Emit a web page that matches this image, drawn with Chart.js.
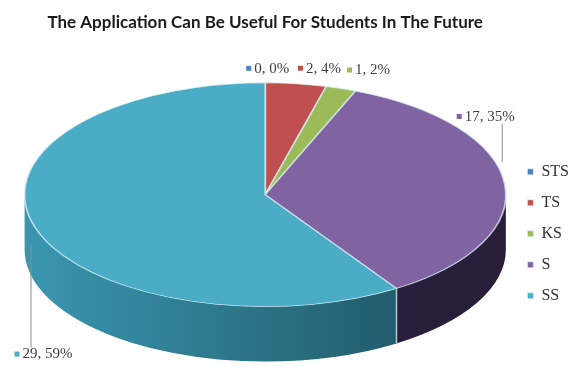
<!DOCTYPE html>
<html lang="en">
<head>
<meta charset="UTF-8">
<script src="https://cdn.jsdelivr.net/npm/chart.js"></script>
<style>
    body { margin: 0; background: #fff; }
    .wrap { position: relative; width: 570px; height: 367px; }
</style>
</head>
<body>
<div class="wrap"><canvas id="pieChart"></canvas></div>
<script>
// data
const categories = ['STS', 'TS', 'KS', 'S', 'SS'];
const counts = [0, 2, 1, 17, 29];
const topColors = ['#4f81bd', '#c0504d', '#9bbb59', '#8064a2', '#4bacc6'];
const sideColors = [['#3c6594', '#2c4c70'], ['#963c3a', '#6e2b2a'], ['#789244', '#566a30'], ['#33284a', '#281e3a'], ['#3a97b0', '#1f5766']];

// label offsets from the slice edge (left/middle of label) + optional leader line
const labelOffsets = [[-19, -14], [2, -15], [6, -18], [-48, -67], [-20, 128]];
const leaders = [null, null, null, { dx: -3, dy: -22 }, { dx: -4, dy: 18 }];

const total = counts.reduce((a, b) => a + b, 0);

// squash the flat pie into a tilted disc and add the side wall
const pie3d = {
    id: 'pie3d',
    beforeDatasetsDraw(chart, args, opts) {
        const arcs = chart.getDatasetMeta(0).data;
        const { x: cx, y: cy, outerRadius: r } = arcs[0];
        const rx = r * opts.sx, ry = r * opts.sy, d = opts.depth;
        const ctx = chart.ctx;
        arcs.forEach((arc, i) => {
            const a0 = Math.max(arc.startAngle, 0), a1 = Math.min(arc.endAngle, Math.PI);
            if (a1 <= a0) return;
            const g = ctx.createLinearGradient(cx - rx, 0, cx + rx * 0.7, 0);
            g.addColorStop(0, sideColors[i][0]);
            g.addColorStop(1, sideColors[i][1]);
            ctx.beginPath();
            ctx.ellipse(cx, cy, rx, ry, 0, a0, a1);
            ctx.lineTo(cx + rx * Math.cos(a1), cy + ry * Math.sin(a1) + d);
            ctx.ellipse(cx, cy + d, rx, ry, 0, a1, a0, true);
            ctx.closePath();
            ctx.fillStyle = g;
            ctx.fill();
            // thin light seam between slices on the wall
            if (a0 > 0 && a0 < Math.PI) {
                ctx.beginPath();
                ctx.moveTo(cx + rx * Math.cos(a0), cy + ry * Math.sin(a0));
                ctx.lineTo(cx + rx * Math.cos(a0), cy + ry * Math.sin(a0) + d);
                ctx.strokeStyle = 'rgba(200,230,240,0.8)';
                ctx.lineWidth = 1.5;
                ctx.stroke();
            }
        });
        ctx.save();
        ctx.translate(cx, cy);
        ctx.scale(opts.sx, opts.sy);
        ctx.translate(-cx, -cy);
    },
    afterDatasetsDraw(chart) {
        chart.ctx.restore();
    },
    afterDraw(chart, args, opts) {
        const arcs = chart.getDatasetMeta(0).data;
        const { x: cx, y: cy, outerRadius: r } = arcs[0];
        const rx = r * opts.sx, ry = r * opts.sy;
        const ctx = chart.ctx;
        ctx.save();
        ctx.font = '15px "Liberation Serif", serif';
        ctx.textBaseline = 'middle';
        arcs.forEach((arc, i) => {
            const mid = (arc.startAngle + arc.endAngle) / 2;
            const ax = cx + rx * Math.cos(mid), ay = cy + ry * Math.sin(mid);
            const lx = ax + labelOffsets[i][0], ly = ay + labelOffsets[i][1];
            const ld = leaders[i];
            if (ld) {
                const x = ax + ld.dx, y0 = ay + ld.dy;
                const y1 = ly < y0 ? ly + 7 : ly - 7;
                ctx.beginPath();
                ctx.moveTo(x + 0.5, y0);
                ctx.lineTo(x + 0.5, y1);
                ctx.strokeStyle = '#8c8c8c';
                ctx.lineWidth = 1;
                ctx.stroke();
            }
            ctx.fillStyle = topColors[i];
            ctx.fillRect(lx, ly - 3, 5, 5);
            ctx.fillStyle = '#404040';
            const pct = Math.round(counts[i] / total * 100);
            ctx.fillText(counts[i] + ', ' + pct + '%', lx + 8, ly);
        });
        ctx.restore();
    }
};

new Chart(document.getElementById('pieChart'), {
    type: 'pie',
    data: {
        labels: categories,
        datasets: [{
            data: counts,
            backgroundColor: topColors,
            borderColor: 'rgba(220,240,248,0.7)',
            borderWidth: 1,
            clip: false
        }]
    },
    options: {
        responsive: true,
        maintainAspectRatio: false,
        animation: false,
        events: [],
        layout: { padding: { left: 18, right: -9, top: 0, bottom: 37 } },
        plugins: {
            pie3d: { sx: 1.785, sy: 0.83, depth: 55 },
            title: {
                display: true,
                fullSize: false,
                text: 'The Application Can Be Useful For Students In The Future',
                color: '#1a1a1a',
                font: { family: 'Lato', size: 17, weight: 'bold' },
                padding: { top: 12, bottom: 27 }
            },
            legend: {
                position: 'right',
                fullSize: false,
                align: 'center',
                title: { display: true, text: ' ', font: { size: 1 }, padding: { top: 77, bottom: 0 } },
                labels: {
                    boxWidth: 6,
                    boxHeight: 6,
                    padding: 15,
                    color: '#333',
                    font: { family: 'Liberation Serif', size: 16 }
                }
            },
            tooltip: { enabled: false }
        }
    },
    plugins: [pie3d]
});
</script>
</body>
</html>
